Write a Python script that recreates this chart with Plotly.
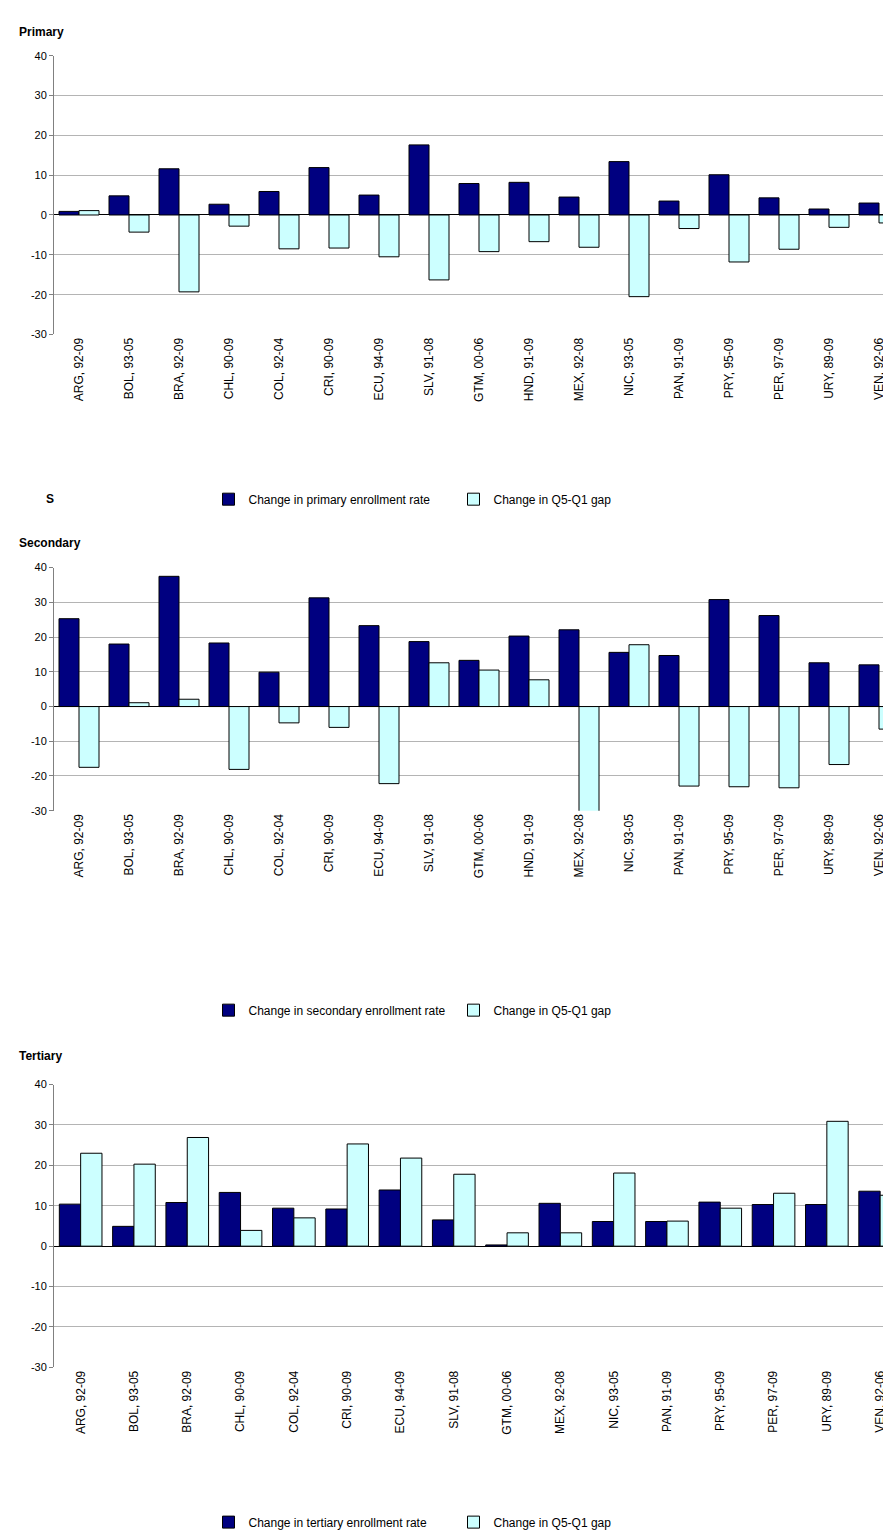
import plotly.graph_objects as go

countries = ["ARG, 92-09", "BOL, 93-05", "BRA, 92-09", "CHL, 90-09", "COL, 92-04", "CRI, 90-09",
             "ECU, 94-09", "SLV, 91-08", "GTM, 00-06", "HND, 91-09", "MEX, 92-08", "NIC, 93-05",
             "PAN, 91-09", "PRY, 95-09", "PER, 97-09", "URY, 89-09", "VEN, 92-06"]
countries_tert = [c for c in countries if not c.startswith("HND")]

primary_rate = [0.9, 4.8, 11.6, 2.7, 5.9, 11.9, 5.0, 17.6, 7.9, 8.2, 4.5, 13.4, 3.5, 10.1, 4.3, 1.5, 3.0]
primary_gap = [1.1, -4.3, -19.3, -2.8, -8.5, -8.3, -10.5, -16.3, -9.2, -6.7, -8.1, -20.5, -3.4, -11.8, -8.6, -3.1, -2.0]

secondary_rate = [25.3, 18.0, 37.5, 18.3, 9.9, 31.3, 23.3, 18.7, 13.3, 20.3, 22.1, 15.6, 14.7, 30.8, 26.2, 12.6, 12.0]
secondary_gap = [-17.5, 1.1, 2.1, -18.1, -4.7, -6.0, -22.2, 12.6, 10.5, 7.7, -30.5, 17.8, -22.9, -23.1, -23.4, -16.7, -6.5]

tertiary_rate = [10.4, 4.9, 10.8, 13.3, 9.4, 9.2, 13.9, 6.5, 0.3, 10.6, 6.1, 6.1, 10.9, 10.3, 10.3, 13.6]
tertiary_gap = [23.0, 20.3, 26.9, 3.9, 7.0, 25.3, 21.8, 17.8, 3.3, 3.3, 18.1, 6.2, 9.4, 13.1, 30.9, 12.6]

y_ticks = [-30, -20, -10, 0, 10, 20, 30, 40]

H = 1535
W = 891
FONT = "Liberation Sans, Arial, sans-serif"
NAVY = "#000080"
CYAN = "#ccffff"


def py(px):
    return 1 - px / H


panels = [
    ("Primary", "primary", countries, primary_rate, primary_gap, 42, 323, 489, 18, 50),
    ("Secondary", "secondary", countries, secondary_rate, secondary_gap, 558, 803, 1004, 533, 50),
    ("Tertiary", "tertiary", countries_tert, tertiary_rate, tertiary_gap, 1079, 1364, 1520, 1050, 53.3),
]

fig = go.Figure()
annotations = []
left = 46

for i, (title, level, cats, rate, gap, top, bottom, leg_y, title_y, cw) in enumerate(panels):
    n = "" if i == 0 else str(i + 1)
    leg = "legend" + n
    fig.add_trace(go.Bar(x=cats, y=rate, name="Change in %s enrollment rate" % level,
                         marker=dict(color=NAVY, line=dict(color="black", width=1)),
                         xaxis="x" + n, yaxis="y" + n, legend=leg))
    fig.add_trace(go.Bar(x=cats, y=gap, name="Change in Q5-Q1 gap",
                         marker=dict(color=CYAN, line=dict(color="black", width=1)),
                         xaxis="x" + n, yaxis="y" + n, legend=leg))
    fig.update_layout(**{
        "xaxis" + n: dict(domain=[left / W, 1], anchor="y" + n, range=[-0.5, -0.5 + (W - left) / cw],
                          tickangle=-90, tickfont=dict(size=12, color="black"), showgrid=False,
                          showline=False, ticks=""),
        "yaxis" + n: dict(domain=[py(bottom), py(top)], anchor="x" + n, range=[-30, 40],
                          tickvals=y_ticks, ticktext=[str(v) for v in y_ticks],
                          gridcolor="#b4b4b4", showline=True, linecolor="#808080",
                          ticks="outside", ticklen=4, tickcolor="#808080",
                          tickfont=dict(size=11, color="black"),
                          zeroline=True, zerolinecolor="black", zerolinewidth=1),
        leg: dict(orientation="h", x=0.5, xanchor="center", y=py(leg_y), yanchor="middle",
                  font=dict(size=12, color="black"), traceorder="normal",
                  itemwidth=30, entrywidth=200),
    })
    annotations.append(dict(text="<b>%s</b>" % title, x=9 / W, y=py(title_y), xref="paper", yref="paper",
                            xanchor="left", yanchor="middle", showarrow=False,
                            font=dict(size=12, color="black")))

annotations.append(dict(text="<b>S</b>", x=36 / W, y=py(489), xref="paper", yref="paper",
                        xanchor="left", yanchor="middle", showarrow=False,
                        font=dict(size=12, color="black")))

fig.update_layout(width=W, height=H, margin=dict(l=0, r=0, t=0, b=0),
                  paper_bgcolor="white", plot_bgcolor="white", barmode="group",
                  bargap=0.2, bargroupgap=0, font=dict(family=FONT, color="black"),
                  annotations=annotations)

fig.write_html("out.html")
